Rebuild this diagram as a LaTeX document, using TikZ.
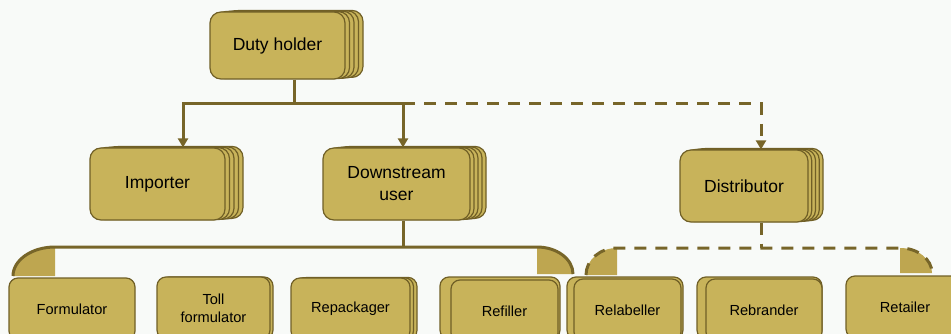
\documentclass[tikz,border=0pt]{standalone}
\usepackage{fontspec}
\setmainfont{Liberation Sans}
\usetikzlibrary{arrows.meta}
\definecolor{gold}{RGB}{200,179,90}
\definecolor{goldedge}{RGB}{112,95,38}
\definecolor{wirecol}{RGB}{119,101,41}
\definecolor{tabcol}{RGB}{190,166,80}
\definecolor{paper}{RGB}{248,250,248}
\tikzset{
  unit/.style={draw=goldedge, fill=gold, line width=1.2pt, align=center, inner sep=0pt},
  big/.style={unit, rounded corners=11pt, minimum height=72pt, font=\fontsize{17.5}{22}\selectfont},
  small/.style={unit, rounded corners=9pt, minimum height=62pt, font=\fontsize{14.6}{18}\selectfont},
  wire/.style={draw=wirecol, line width=3pt},
  dashwire/.style={wire, dash pattern=on 12pt off 9pt},
}
\begin{document}
\begin{tikzpicture}[x=1pt, y=-1pt, >={Triangle[width=10pt,length=9pt]}]
	\fill[paper] (0,0) rectangle (951,334);
	\useasboundingbox (0,0) rectangle (951,334);
	% top and second level, stacked cards
	\foreach \i in {4,...,1} \node[big, minimum width=135pt, minimum height=67pt] at (277.5+\i*4.5,45.5-\i*0.4) {};
	\node[big, minimum width=135pt, minimum height=67pt] (duty) at (277.5,45.5) {Duty holder};
	\foreach \n/\x/\y/\w/\d/\t in {imp/157.5/184/135/4.5/Importer, dsu/396.5/184/147/4/{Downstream\\user}, dist/744/186/128/3.75/Distributor}{
		\foreach \i in {4,...,1} \node[big, minimum width=\w pt] at (\x+\i*\d,\y-\i*0.4) {};
		\node[big, minimum width=\w pt] (\n) at (\x,\y) {\t};
	}
	\coordinate (busTop) at (294,104); \coordinate (busL) at (183,104);
	\coordinate (busM) at (403,104); \coordinate (busR) at (761,104);
	\draw[wire] (busTop |- duty.south) -- (busTop);
	\draw[wire,->] (busM) -- (busL) -- (busL |- imp.north);
	\draw[wire,->] (busM) -- (busM |- dsu.north);
	\draw[dashwire,->] (busM) -- (busR) -- (busR |- dist.north);
	% brackets to the lower row
	\fill[tabcol] (55,247) arc[start angle=90, end angle=180, x radius=42pt, y radius=29pt] -- (55,276) -- cycle;
	\fill[tabcol] (537,247) arc[start angle=90, end angle=0, x radius=36pt, y radius=27pt] -- (537,274) -- cycle;
	\fill[tabcol] (617,248) arc[start angle=90, end angle=180, x radius=31pt, y radius=27pt] -- (617,275) -- cycle;
	\fill[tabcol] (900,248) arc[start angle=90, end angle=0, x radius=32pt, y radius=25pt] -- (900,273) -- cycle;
	\coordinate (dsuLow) at (403,247); \coordinate (distLow) at (761,248);
	\draw[wire] (dsuLow |- dsu.south) -- (dsuLow);
	\draw[wire] (13,276) arc[start angle=180, end angle=90, x radius=42pt, y radius=29pt] -- (537,247)
		arc[start angle=90, end angle=0, x radius=36pt, y radius=27pt];
	\draw[dashwire] (distLow |- dist.south) -- (distLow);
	\draw[dashwire] (586,275) arc[start angle=180, end angle=90, x radius=31pt, y radius=27pt] -- (900,248)
		arc[start angle=90, end angle=0, x radius=32pt, y radius=25pt];
	% lower row
	\node[small, minimum width=126pt] (form) at (72,309) {Formulator};
	\node[small, minimum width=113pt] at (216.5,308) {};
	\node[small, minimum width=113pt] (toll) at (213.5,308) {Toll\\formulator};
	\foreach \i in {2,1} \node[small, minimum width=119pt] at (350.5+\i*3.5,309-\i*0.3) {};
	\node[small, minimum width=119pt] (repack) at (350.5,309) {Repackager};
	\node[small, minimum width=120pt] at (500,308) {};
	\node[small, minimum width=107pt] (refill) at (504.5,311) {Refiller};
	\node[small, minimum width=116pt] at (625,308) {};
	\node[small, minimum width=107pt] (relabel) at (627.5,310) {Relabeller};
	\node[small, minimum width=125pt] at (759.5,308) {};
	\node[small, minimum width=116pt] (rebrand) at (764,310) {Rebrander};
	\node[small, minimum width=118pt] (retail) at (905,307) {Retailer};
\end{tikzpicture}
\end{document}
